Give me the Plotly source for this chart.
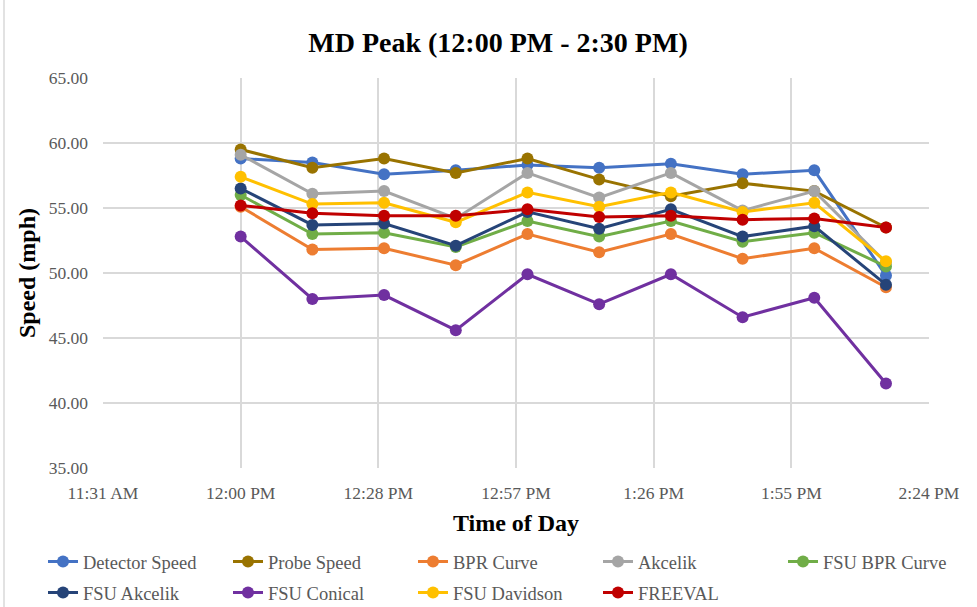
import plotly.graph_objects as go

# Observation times (15-minute intervals)
times = ["12:00", "12:15", "12:30", "12:45", "13:00",
         "13:15", "13:30", "13:45", "14:00", "14:15"]

detector_speed = [58.8, 58.5, 57.6, 57.9, 58.3, 58.1, 58.4, 57.6, 57.9, 49.8]
probe_speed    = [59.5, 58.1, 58.8, 57.7, 58.8, 57.2, 55.9, 56.9, 56.3, 53.5]
bpr_curve      = [55.1, 51.8, 51.9, 50.6, 53.0, 51.6, 53.0, 51.1, 51.9, 48.9]
akcelik        = [59.1, 56.1, 56.3, 54.2, 57.7, 55.8, 57.7, 54.8, 56.3, 50.8]
fsu_bpr_curve  = [56.0, 53.0, 53.1, 52.0, 54.0, 52.8, 54.0, 52.4, 53.1, 50.5]
fsu_akcelik    = [56.5, 53.7, 53.8, 52.1, 54.7, 53.4, 54.9, 52.8, 53.6, 49.1]
fsu_conical    = [52.8, 48.0, 48.3, 45.6, 49.9, 47.6, 49.9, 46.6, 48.1, 41.5]
fsu_davidson   = [57.4, 55.3, 55.4, 53.9, 56.2, 55.1, 56.2, 54.7, 55.4, 50.9]
freeval        = [55.2, 54.6, 54.4, 54.4, 54.9, 54.3, 54.4, 54.1, 54.2, 53.5]

series_names = ["Detector Speed", "Probe Speed", "BPR Curve", "Akcelik",
                "FSU BPR Curve", "FSU Akcelik", "FSU Conical",
                "FSU Davidson", "FREEVAL"]
series_values = [detector_speed, probe_speed, bpr_curve, akcelik,
                 fsu_bpr_curve, fsu_akcelik, fsu_conical,
                 fsu_davidson, freeval]
series_colors = ["#4472C4", "#997300", "#ED7D31", "#A5A5A5",
                 "#70AD47", "#264478", "#7030A0", "#FFC000", "#C00000"]
# legend group for each series: first row (cols 1-4), last column, second row
series_legend = ["legend", "legend", "legend", "legend", "legend3",
                 "legend2", "legend2", "legend2", "legend2"]

# Axis ticks every 0.02 day (28.8 min)
tick_times = ["11:31:12", "12:00:00", "12:28:48", "12:57:36",
              "13:26:24", "13:55:12", "14:24:00"]
tick_labels = ["11:31 AM", "12:00 PM", "12:28 PM", "12:57 PM",
               "1:26 PM", "1:55 PM", "2:24 PM"]
y_ticks = [35, 40, 45, 50, 55, 60, 65]

day = "2020-01-01 "
x_vals = [day + t for t in times]

FONT = "Liberation Serif, Times New Roman, serif"
W, H = 977, 607
ML, MR, MT, MB = 103, 48, 78, 139

fig = go.Figure()
for name, vals, col, lg in zip(series_names, series_values, series_colors, series_legend):
    fig.add_trace(go.Scatter(
        x=x_vals, y=vals, name=name, mode="lines+markers",
        line=dict(color=col, width=3),
        marker=dict(color=col, size=12),
        legend=lg,
    ))

legend_common = dict(
    orientation="h", xref="container", yref="container",
    xanchor="left", yanchor="middle",
    font=dict(family=FONT, size=18.5, color="#595959"),
    entrywidth=140, entrywidthmode="pixels", itemwidth=30,
    bgcolor="rgba(0,0,0,0)", traceorder="normal",
)

fig.update_layout(
    width=W, height=H,
    margin=dict(l=ML, r=MR, t=MT, b=MB, autoexpand=False),
    paper_bgcolor="white", plot_bgcolor="white",
    font=dict(family=FONT),
    title=dict(text="<b>MD Peak (12:00 PM - 2:30 PM)</b>",
               x=498 / W, xref="container", xanchor="center",
               y=1 - 42 / H, yref="container", yanchor="middle",
               font=dict(family=FONT, size=28, color="black")),
    legend=dict(x=43 / W, y=1 - 562 / H, **legend_common),
    legend3=dict(x=783 / W, y=1 - 562 / H, **legend_common),
    legend2=dict(x=43 / W, y=1 - 593 / H, **legend_common),
    xaxis=dict(
        type="date",
        range=[day + tick_times[0], day + tick_times[-1]],
        tickvals=[day + t for t in tick_times], ticktext=tick_labels,
        showgrid=True, gridcolor="#D9D9D9", gridwidth=1.5,
        showline=False, zeroline=False, ticks="",
        ticklabelstandoff=12,
        tickfont=dict(family=FONT, size=17.5, color="#595959"),
        title=dict(text="<b>Time of Day</b>", standoff=12,
                   font=dict(family=FONT, size=24, color="black")),
    ),
    yaxis=dict(
        range=[35, 65], tickvals=y_ticks,
        ticktext=[f"{v:.2f}" for v in y_ticks],
        showgrid=True, gridcolor="#D9D9D9", gridwidth=1.5,
        showline=False, zeroline=False, ticks="",
        ticklabelstandoff=14,
        tickfont=dict(family=FONT, size=17.5, color="#595959"),
        title=dict(text="<b>Speed (mph)</b>", standoff=6,
                   font=dict(family=FONT, size=24, color="black")),
    ),
    showlegend=True,
)

# Chart-area frame on the left edge
fig.add_shape(type="line", xref="paper", yref="paper",
              x0=(4 - ML) / (W - ML - MR), x1=(4 - ML) / (W - ML - MR),
              y0=-MB / (H - MT - MB), y1=1 + MT / (H - MT - MB),
              line=dict(color="#D9D9D9", width=1.5))

fig.write_html("out.html")
